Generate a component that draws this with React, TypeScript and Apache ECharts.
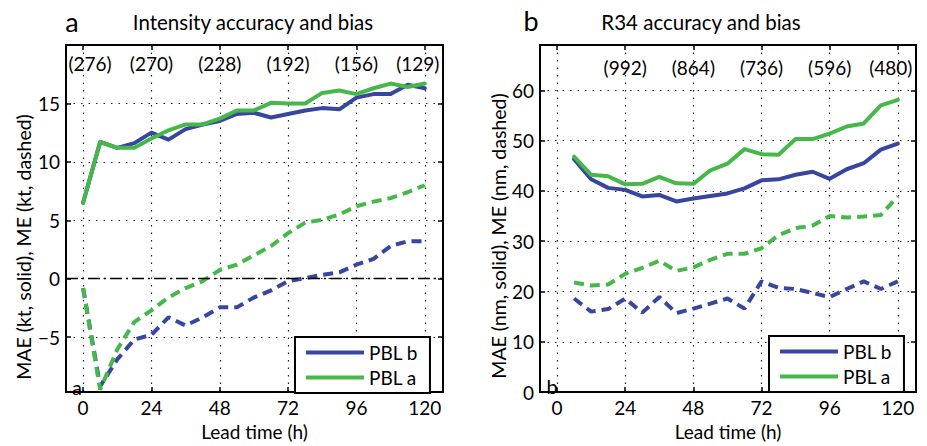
import React, { useEffect, useRef } from "react";
import * as echarts from "echarts";

// ---------- data ----------
const leadA = [0, 6, 12, 18, 24, 30, 36, 42, 48, 54, 60, 66, 72, 78, 84, 90, 96, 102, 108, 114, 120];
const maeIntensityB = [6.5, 11.7, 11.2, 11.6, 12.5, 11.9, 12.8, 13.2, 13.5, 14.1, 14.2, 13.8, 14.1, 14.4, 14.6, 14.5, 15.5, 15.8, 15.8, 16.6, 16.3];
const maeIntensityA = [6.5, 11.7, 11.2, 11.2, 12.0, 12.7, 13.2, 13.2, 13.7, 14.4, 14.4, 15.05, 15.0, 15.0, 15.9, 16.1, 15.8, 16.3, 16.7, 16.4, 16.7];
const meIntensityB = [-0.8, -9.2, -6.9, -5.2, -4.8, -3.3, -4.0, -3.3, -2.45, -2.45, -1.6, -1.0, -0.2, 0.05, 0.33, 0.55, 1.2, 1.7, 2.8, 3.2, 3.2];
const meIntensityA = [-0.8, -9.5, -6.05, -3.7, -2.7, -1.6, -0.8, -0.2, 0.75, 1.2, 2.0, 2.8, 3.9, 4.8, 5.05, 5.5, 6.2, 6.6, 6.9, 7.4, 8.0];
const countHoursA = [0, 24, 48, 72, 96, 120];
const countsA = [276, 270, 228, 192, 156, 129];

const leadB = [6, 12, 18, 24, 30, 36, 42, 48, 54, 60, 66, 72, 78, 84, 90, 96, 102, 108, 114, 120];
const maeR34B = [46.3, 42.3, 40.6, 40.2, 38.9, 39.2, 37.9, 38.5, 39.0, 39.5, 40.5, 42.1, 42.3, 43.2, 43.8, 42.4, 44.3, 45.5, 48.2, 49.4];
const maeR34A = [46.8, 43.2, 42.9, 41.3, 41.4, 42.8, 41.5, 41.4, 44.1, 45.4, 48.3, 47.3, 47.2, 50.3, 50.3, 51.4, 52.8, 53.4, 57.0, 58.1];
const meR34B = [18.6, 16.0, 16.5, 18.6, 15.8, 18.9, 15.7, 16.6, 17.6, 18.6, 16.6, 22.0, 20.7, 20.5, 19.7, 18.9, 20.5, 22.0, 20.5, 22.0];
const meR34A = [21.8, 21.2, 21.4, 23.5, 24.7, 26.1, 24.1, 24.8, 26.3, 27.5, 27.5, 28.6, 31.2, 32.6, 33.1, 35.0, 34.7, 34.9, 35.2, 38.9];
const countHoursB = [24, 48, 72, 96, 120];
const countsB = [992, 864, 736, 596, 480];

const xTicks = [0, 24, 48, 72, 96, 120];
const yTicksA = [-5, 0, 5, 10, 15];
const yTicksB = [0, 10, 20, 30, 40, 50, 60];

const seriesNames = ["PBL b", "PBL a"];

// ---------- style ----------
const BLUE = "#37469f";
const GREEN = "#46b84a";
const FONT = "Lato";
const pair = (xs: number[], ys: number[]) => xs.map((x, i) => [x, ys[i]]);

function buildOption() {
  const gridBox = [
    { left: 66, top: 45, width: 377, height: 356 },
    { left: 540, top: 45, width: 376, height: 356 },
  ];
  const yRanges = [
    { min: -9.7, max: 20, ticks: yTicksA },
    { min: 0, max: 69, ticks: yTicksB },
  ];
  const axisLineStyle = { color: "#000", width: 2 };
  const dotted = { color: "#222", width: 1.2, type: [1.5, 6] as any };
  const labelStyle = { color: "#000", fontSize: 19, fontFamily: FONT };

  const xAxis: any[] = [];
  const yAxis: any[] = [];
  [0, 1].forEach((g) => {
    xAxis.push({
      gridIndex: g, type: "value", min: -6, max: 126.4, position: "bottom",
      axisLine: { show: true, lineStyle: axisLineStyle, onZero: false },
      axisTick: { show: true, inside: true, length: 5, customValues: xTicks, lineStyle: { color: "#000", width: 1.5 } },
      axisLabel: { ...labelStyle, customValues: xTicks, margin: 6 },
      splitLine: { show: true, lineStyle: dotted },
      name: "Lead time (h)", nameLocation: "middle", nameGap: 28,
      nameTextStyle: { ...labelStyle },
    });
    xAxis.push({
      gridIndex: g, type: "value", min: -6, max: 126.4, position: "top",
      axisLine: { show: true, lineStyle: axisLineStyle, onZero: false },
      axisTick: { show: true, inside: true, length: 5, customValues: xTicks, lineStyle: { color: "#000", width: 1.5 } },
      axisLabel: { show: false },
      splitLine: { show: false },
    });
    const yr = yRanges[g];
    yAxis.push({
      gridIndex: g, type: "value", min: yr.min, max: yr.max, position: "left",
      axisLine: { show: true, lineStyle: axisLineStyle, onZero: false },
      axisTick: { show: true, inside: true, length: 5, customValues: yr.ticks, lineStyle: { color: "#000", width: 1.5 } },
      axisLabel: { ...labelStyle, customValues: yr.ticks, margin: 6, formatter: (v: number) => (v < 0 ? "\u2212" + Math.abs(v) : String(v)) },
      splitLine: { show: true, lineStyle: dotted },
    });
    yAxis.push({
      gridIndex: g, type: "value", min: yr.min, max: yr.max, position: "right",
      axisLine: { show: true, lineStyle: axisLineStyle, onZero: false },
      axisTick: { show: true, inside: true, length: 5, customValues: yr.ticks, lineStyle: { color: "#000", width: 1.5 } },
      axisLabel: { show: false },
      splitLine: { show: false },
    });
  });

  const solid = (name: string, color: string, data: number[][], xi: number, yi: number) => ({
    name, type: "line", data, xAxisIndex: xi, yAxisIndex: yi, symbol: "none",
    lineStyle: { color, width: 4, cap: "round", join: "round" }, itemStyle: { color }, z: 3,
  });
  const dashed = (name: string, color: string, data: number[][], xi: number, yi: number) => ({
    name, type: "line", data, xAxisIndex: xi, yAxisIndex: yi, symbol: "none",
    lineStyle: { color, width: 4, type: [10, 6] }, itemStyle: { color }, z: 3,
  });
  const counts = (hours: number[], vals: number[], yPos: number, xi: number, yi: number, firstShift: number, lastShift: number) => ({
    name: "counts", type: "scatter", xAxisIndex: xi, yAxisIndex: yi, symbolSize: 1,
    itemStyle: { color: "rgba(0,0,0,0)" },
    data: hours.map((h, i) => ({
      value: [h, yPos], count: vals[i],
      label: { offset: [i === 0 ? firstShift : i === hours.length - 1 ? lastShift : 0, 0] },
    })),
    label: {
      show: true, position: "inside", color: "#000", fontSize: 19, fontFamily: FONT,
      textBorderWidth: 0, opacity: 1,
      formatter: (p: any) => "(" + p.data.count + ")",
    },
    emphasis: { disabled: true },
    silent: true, z: 4,
  });

  const series: any[] = [
    solid(seriesNames[0], BLUE, pair(leadA, maeIntensityB), 0, 0),
    solid(seriesNames[1], GREEN, pair(leadA, maeIntensityA), 0, 0),
    dashed("ME b", BLUE, pair(leadA, meIntensityB), 0, 0),
    dashed("ME a", GREEN, pair(leadA, meIntensityA), 0, 0),
    {
      name: "zero", type: "line", data: [], xAxisIndex: 0, yAxisIndex: 0,
      markLine: {
        silent: true, symbol: "none", label: { show: false },
        lineStyle: { color: "#000", width: 1.3, type: [12, 4, 2, 4] },
        data: [{ yAxis: 0 }],
      },
      z: 2,
    },
    counts(countHoursA, countsA, 18.4, 0, 0, 7, -7),
    solid(seriesNames[0], BLUE, pair(leadB, maeR34B), 2, 2),
    solid(seriesNames[1], GREEN, pair(leadB, maeR34A), 2, 2),
    dashed("ME b2", BLUE, pair(leadB, meR34B), 2, 2),
    dashed("ME a2", GREEN, pair(leadB, meR34A), 2, 2),
    counts(countHoursB, countsB, 64.6, 2, 2, 0, -7),
  ];

  const legendBase = {
    data: seriesNames, orient: "vertical", icon: "rect", itemWidth: 58, itemHeight: 4,
    itemGap: 6, padding: [6, 12, 6, 11], borderColor: "#000", borderWidth: 2,
    backgroundColor: "#fff", textStyle: { color: "#000", fontSize: 19, fontFamily: FONT },
    selectedMode: false,
  };
  const legend = [
    { ...legendBase, left: 295, top: 337 },
    { ...legendBase, left: 769, top: 336 },
  ];

  const txt = (text: string, x: number, y: number, size: number, extra: any = {}) => ({
    type: "text", x, y, silent: true,
    style: { text, fontSize: size, fontFamily: FONT, fill: "#000", textAlign: "center", textVerticalAlign: "middle", ...extra },
  });
  const graphic = [
    txt("a", 72, 21, 27),
    txt("Intensity accuracy and bias", 253, 22, 20.5),
    txt("b", 531, 20, 27),
    txt("R34 accuracy and bias", 701, 22, 20.5),
    { ...txt("MAE (kt, solid), ME (kt, dashed)", 23, 247, 19.5), rotation: Math.PI / 2 },
    { ...txt("MAE (nm, solid), ME (nm, dashed)", 498, 236, 19.5), rotation: Math.PI / 2 },
    txt("a", 77, 387, 20),
    txt("b", 552, 386, 20),
  ];

  return {
    animation: false,
    backgroundColor: "#fff",
    grid: gridBox,
    xAxis, yAxis, series, legend, graphic,
  };
}

export default function App() {
  const ref = useRef<HTMLDivElement>(null);
  useEffect(() => {
    if (!ref.current) return;
    const chart = echarts.init(ref.current, null, { renderer: "svg" });
    chart.setOption(buildOption() as any);
    return () => chart.dispose();
  }, []);
  return (
    <div
      ref={ref}
      style={{ position: "absolute", left: 0, top: 0, width: 927, height: 446 }}
    />
  );
}
